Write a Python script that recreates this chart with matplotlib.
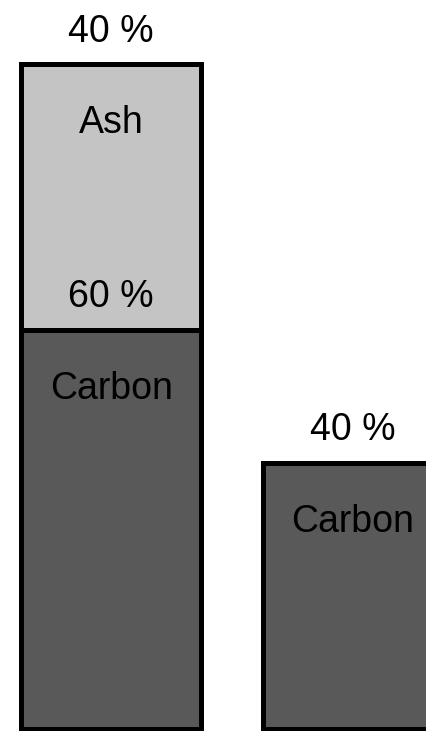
import matplotlib
matplotlib.use("Agg")
import matplotlib.pyplot as plt

plt.rcParams["font.family"] = ["Liberation Sans", "DejaVu Sans"]

# composition before and after burning (percent of original mass)
samples = ["before", "after"]
carbon = [60, 40]
ash = [40, 0]

COLORS = {"Carbon": "#595959", "Ash": "#c4c4c4"}
WIDTH = 0.747
PCT_OFFSET = 3.4     # percent label sits above the segment top
NAME_OFFSET = 10.3   # name label sits below the segment top

fig = plt.figure(figsize=(4.27, 7.31), dpi=100)
ax = fig.add_axes([0, 0, 1, 1])

x = list(range(len(samples)))
layers = [("Carbon", carbon), ("Ash", ash)]
bottoms = [0] * len(samples)
for name, vals in layers:
    ax.bar(x, vals, WIDTH, bottom=bottoms, color=COLORS[name],
           edgecolor="black", linewidth=3.6, zorder=2)
    for xi, v, b in zip(x, vals, bottoms):
        if v <= 0:
            continue
        top = b + v
        ax.text(xi, top + PCT_OFFSET, f"{v} %", ha="center", va="baseline",
                fontsize=27, color="black", zorder=3)
        ax.text(xi, top - NAME_OFFSET, name, ha="center", va="baseline",
                fontsize=27, color="black", zorder=3)
    bottoms = [b + v for b, v in zip(bottoms, vals)]

ax.set_xlim(-0.4607, 1.3075)
ax.set_ylim(-0.30, 109.65)
ax.axis("off")

fig.savefig("out.png", dpi=100)
